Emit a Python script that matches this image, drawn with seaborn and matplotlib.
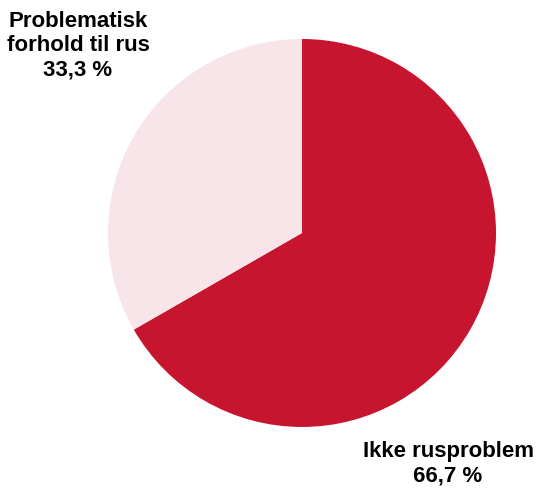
import matplotlib
matplotlib.use("Agg")
import matplotlib.pyplot as plt
import seaborn as sns

sns.set_style("white")
plt.rcParams['font.family'] = ['Liberation Sans', 'DejaVu Sans']

categories = ["Ikke rusproblem", "Problematisk\nforhold til rus"]
shares = [66.7, 33.3]
share_labels = ["66,7 %", "33,3 %"]
colors = ["#C8152F", "#F8E5E9"]

fig = plt.figure(figsize=(5.37, 4.91), dpi=100)
ax = fig.add_axes([0.2011, 0.1304, 0.7226, 0.7902])

ax.pie(shares, colors=colors, startangle=90, counterclock=False,
       radius=1, wedgeprops=dict(linewidth=0))
ax.set_xlim(-1, 1)
ax.set_ylim(-1, 1)
ax.set_aspect("equal")
ax.axis("off")

# label positions in data units (pie radius = 1)
label_pos = [(0.753, -1.19), (-1.155, 0.965)]
for cat, lab, (x, y) in zip(categories, share_labels, label_pos):
    ax.text(x, y, "{}\n{}".format(cat, lab), ha="center", va="center",
            fontsize=16, fontweight="bold", color="black",
            linespacing=1.2, clip_on=False)

plt.savefig("out.png", dpi=100)
